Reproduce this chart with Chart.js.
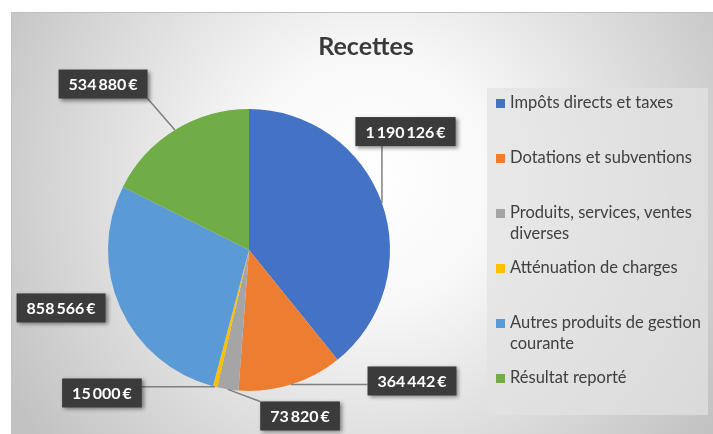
<!DOCTYPE html>
<html lang="fr">
<head>
<meta charset="utf-8">
<title>Recettes</title>
<script src="https://cdn.jsdelivr.net/npm/chart.js@4/dist/chart.umd.min.js"></script>
<style>
  html, body { margin: 0; padding: 0; background: #ffffff; }
  #wrap { width: 713px; height: 434px; }
</style>
</head>
<body>
<div id="wrap"><canvas id="recettes" width="713" height="434"></canvas></div>
<script>
//----------------------
// Data
//----------------------

const chartTitle = 'Recettes';
const categories = [
    'Impôts directs et taxes',
    'Dotations et subventions',
    'Produits, services, ventes diverses',
    'Atténuation de charges',
    'Autres produits de gestion courante',
    'Résultat reporté'
];
const amounts = [1190126, 364442, 73820, 15000, 858566, 534880];
const sliceColors = ['#4472C4', '#ED7D31', '#A5A5A5', '#FFC000', '#5B9BD5', '#70AD47'];

// where each value box sits, relative to pie centre, in pie radii
const labelSpots = [
    [1.11, -0.84],
    [1.156, 0.929],
    [0.362, 1.177],
    [-1.043, 1.014],
    [-1.333, 0.411],
    [-1.035, -1.177]
];

const FONT = 'Lato, "Open Sans", "Noto Sans", sans-serif';

function euros(v) {  // 1190126 -> "1 190 126 €" with thin gaps
    return String(v).replace(/\B(?=(\d{3})+(?!\d))/g, '\u2009') + '\u2009€';
}

//----------------------
// Plugins: background, title, value boxes, legend
//----------------------

const backdrop = {
    id: 'backdrop',
    beforeDraw(chart) {
        const ctx = chart.ctx;
        ctx.save();
        ctx.fillStyle = '#ffffff';
        ctx.fillRect(0, 0, chart.width, chart.height);
        const g = ctx.createRadialGradient(370, 180, 0, 370, 180, 420);
        g.addColorStop(0, '#ffffff');
        g.addColorStop(0.3, '#f8f8f8');
        g.addColorStop(1, '#c2c2c2');
        ctx.fillStyle = g;
        ctx.fillRect(11, 12, chart.width - 11, chart.height - 12);
        ctx.strokeStyle = '#bfbfbf';
        ctx.lineWidth = 1;
        ctx.beginPath();
        ctx.moveTo(11.5, chart.height);
        ctx.lineTo(11.5, 12.5);
        ctx.lineTo(chart.width, 12.5);
        ctx.stroke();

        // title
        ctx.fillStyle = '#3a3a3a';
        ctx.font = 'bold 25px ' + FONT;
        ctx.textAlign = 'center';
        ctx.textBaseline = 'middle';
        ctx.fillText(chartTitle, 366, 47);
        ctx.restore();
    }
};

const valueBoxes = {
    id: 'valueBoxes',
    afterDatasetsDraw(chart) {
        const ctx = chart.ctx;
        const arcs = chart.getDatasetMeta(0).data;
        ctx.save();
        ctx.font = 'bold 16px ' + FONT;
        arcs.forEach((arc, i) => {
            const r = arc.outerRadius;
            const mid = (arc.startAngle + arc.endAngle) / 2;
            const ex = arc.x + Math.cos(mid) * r;
            const ey = arc.y + Math.sin(mid) * r;
            const text = euros(amounts[i]);
            const w = ctx.measureText(text).width + 20;
            const h = 29;
            const cx = arc.x + labelSpots[i][0] * r;
            const cy = arc.y + labelSpots[i][1] * r;
            const bx = cx - w / 2, by = cy - h / 2;

            // leader line to nearest point of the box
            const nx = Math.min(Math.max(ex, bx), bx + w);
            const ny = Math.min(Math.max(ey, by), by + h);
            if (Math.hypot(nx - ex, ny - ey) > 20) {
                ctx.strokeStyle = '#7f7f7f';
                ctx.lineWidth = 1.5;
                ctx.beginPath();
                ctx.moveTo(ex, ey);
                ctx.lineTo(nx, ny);
                ctx.stroke();
            }

            ctx.shadowColor = 'rgba(0,0,0,0.45)';
            ctx.shadowBlur = 4;
            ctx.shadowOffsetX = 2;
            ctx.shadowOffsetY = 2;
            ctx.fillStyle = '#3b3b3b';
            ctx.fillRect(bx, by, w, h);
            ctx.shadowColor = 'transparent';

            ctx.fillStyle = '#ffffff';
            ctx.textAlign = 'center';
            ctx.textBaseline = 'middle';
            ctx.fillText(text, cx, cy + 1);
        });
        ctx.restore();
    }
};

const sideLegend = {
    id: 'sideLegend',
    afterDraw(chart) {
        const ctx = chart.ctx;
        const left = 487, top = 88, width = 221, height = 327;
        ctx.save();
        ctx.fillStyle = 'rgba(226,226,226,0.72)';
        ctx.fillRect(left, top, width, height);

        ctx.font = '16.5px ' + FONT;
        ctx.textAlign = 'left';
        ctx.textBaseline = 'middle';
        const slot = 55, lineH = 21, maxW = 196;
        categories.forEach((name, i) => {
            const y = top + 15 + i * slot;
            ctx.fillStyle = sliceColors[i];
            ctx.fillRect(left + 9, y - 4, 9, 9);

            // simple word wrap
            const words = name.split(' ');
            const lines = [];
            let line = '';
            words.forEach(w => {
                const test = line ? line + ' ' + w : w;
                if (ctx.measureText(test).width > maxW && line) {
                    lines.push(line);
                    line = w;
                } else {
                    line = test;
                }
            });
            lines.push(line);

            ctx.fillStyle = '#404040';
            lines.forEach((l, k) => ctx.fillText(l, left + 23, y + k * lineH));
        });
        ctx.restore();
    }
};

//----------------------
// Pie chart
//----------------------

const ctx = document.getElementById('recettes').getContext('2d');
const chart = new Chart(ctx, {
    type: 'pie',
    data: {
        labels: categories,
        datasets: [{
            data: amounts,
            backgroundColor: sliceColors,
            borderWidth: 0
        }]
    },
    options: {
        responsive: false,
        animation: false,
        layout: {
            padding: { left: 11, right: 226, top: 109, bottom: 43 }
        },
        plugins: {
            legend: { display: false },
            title: { display: false },
            tooltip: { enabled: true }
        }
    },
    plugins: [backdrop, valueBoxes, sideLegend]
});
</script>
</body>
</html>
